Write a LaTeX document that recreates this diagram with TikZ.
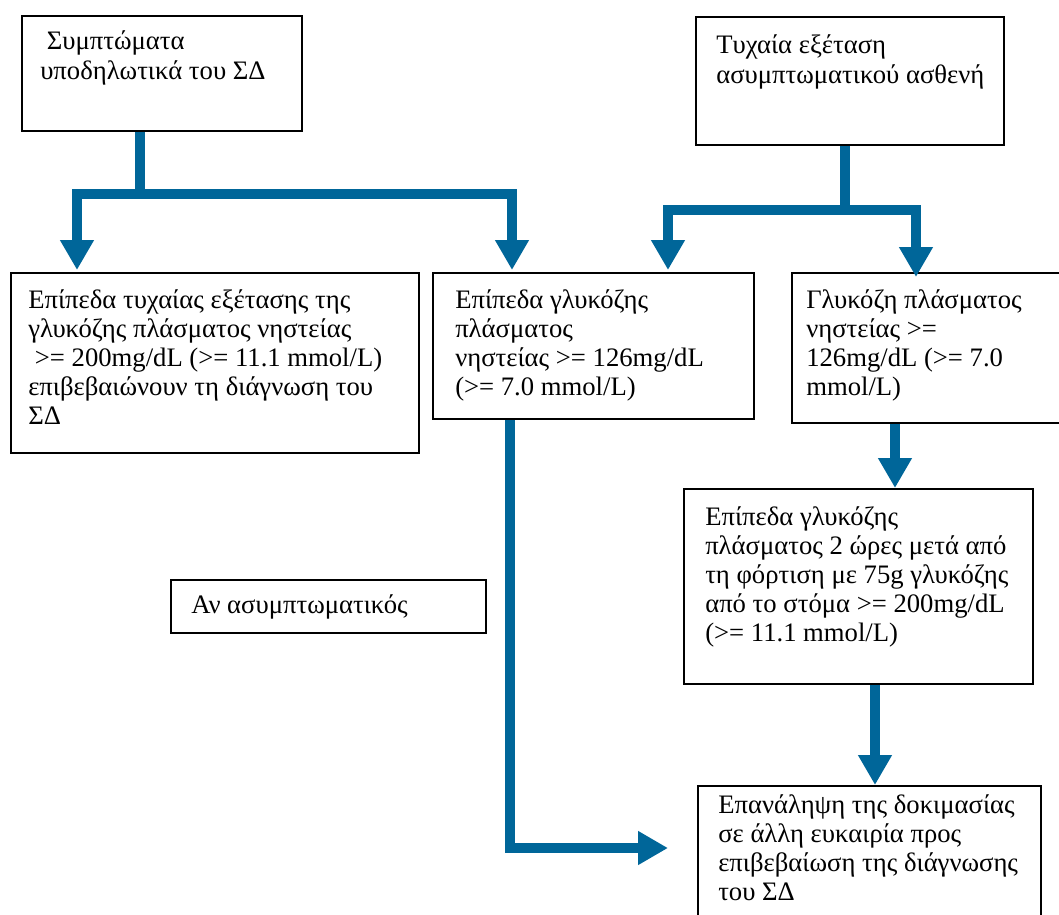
\documentclass[tikz,border=0pt]{standalone}
\usepackage{fontspec}
\setmainfont{Liberation Serif}
\usetikzlibrary{arrows.meta,calc}
\definecolor{flowblue}{RGB}{0,102,153}
\begin{document}
\begin{tikzpicture}[x=0.75pt,y=-0.75pt,
  box/.style={draw=black, line width=1.5pt, rectangle, inner sep=0pt, anchor=north west},
  txt/.style={anchor=north west, inner sep=0pt, align=left, font=\fontsize{20pt}{21.8pt}\selectfont},
  flow/.style={draw=flowblue, line width=7.5pt},
  flowarrow/.style={flow, -{Triangle[length=22.5pt,width=24pt]}},
]
\clip (0,0) rectangle (1059,914);
\useasboundingbox (0,0) rectangle (1059,914);
% boxes
\node[box, minimum width=210pt, minimum height=86.25pt] (b1) at (21,15) {};
\node[box, minimum width=231pt, minimum height=96pt] (b2) at (695,16) {};
\node[box, minimum width=306pt, minimum height=135pt] (b3) at (10,272) {};
\node[box, minimum width=240.75pt, minimum height=109.5pt] (b4) at (432,272) {};
\node[box, minimum width=210pt, minimum height=112.5pt] (b5) at (791,272) {};
\node[box, minimum width=261.75pt, minimum height=146.25pt] (b6) at (683,488) {};
\node[box, minimum width=236.25pt, minimum height=39.75pt] (b7) at (170,579) {};
\node[box, minimum width=257.25pt, minimum height=112.5pt] (b8) at (697,785) {};
% texts
\node[txt, font=\fontsize{20pt}{23pt}\selectfont] (t1) at (40,30) {\ Συμπτώματα\\υποδηλωτικά του ΣΔ};
\node[txt, font=\fontsize{20pt}{23pt}\selectfont] (t2) at (716,34) {Τυχαία εξέταση\\ασυμπτωματικού ασθενή};
\node[txt] (t3) at (28,289) {Επίπεδα τυχαίας εξέτασης της\\γλυκόζης πλάσματος νηστείας\\\ >= 200mg/dL (>= 11.1 mmol/L)\\επιβεβαιώνουν τη διάγνωση του\\ΣΔ};
\node[txt] (t4) at (455,289) {Επίπεδα γλυκόζης\\πλάσματος\\νηστείας >= 126mg/dL\\(>= 7.0 mmol/L)};
\node[txt] (t5) at (806,289) {Γλυκόζη πλάσματος\\νηστείας >=\\126mg/dL (>= 7.0\\mmol/L)};
\node[txt] (t6) at (705,506) {Επίπεδα γλυκόζης\\πλάσματος 2 ώρες μετά από\\τη φόρτιση με 75g γλυκόζης\\από το στόμα >= 200mg/dL\\(>= 11.1 mmol/L)};
\node[txt] (t7) at (191,594) {Αν ασυμπτωματικός};
\node[txt] (t8) at (718,794) {Επανάληψη της δοκιμασίας\\σε άλλη ευκαιρία προς\\επιβεβαίωση της διάγνωσης\\του ΣΔ};
% connectors
\coordinate (j1) at (140,194);
\coordinate (j2) at (845,210);
\draw[flow] (b1.south -| j1) -- (j1);
\draw[flowarrow] (j1) -| ($(b3.north west)+(67,-2)$);
\draw[flowarrow] (j1) -| ($(b4.north west)+(80,-2)$);
\draw[flow] (b2.south -| j2) -- (j2);
\draw[flowarrow] (j2) -| ($(b4.north west)+(236,-2)$);
\draw[flowarrow] (j2) -| ($(b5.north west)+(125,5)$);
\draw[flowarrow] ($(b4.south west)+(78,0)$) |- ($(b8.north west)+(-29,63)$);
\draw[flowarrow] ($(b5.south west)+(104,0)$) -- ($(b6.north west)+(212,0)$);
\draw[flowarrow] ($(b6.south west)+(192,0)$) -- ($(b8.north west)+(178,0)$);
\end{tikzpicture}
\end{document}
